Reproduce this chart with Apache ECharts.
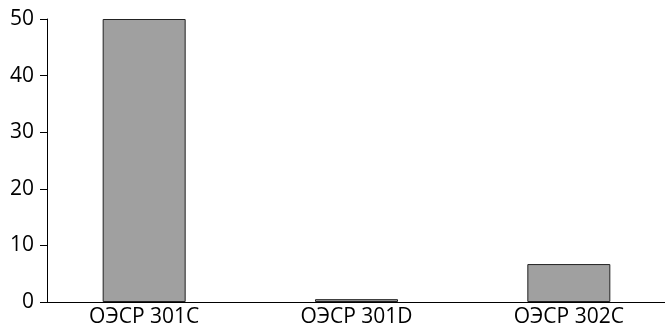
<!DOCTYPE html>
<html><head><meta charset="utf-8">
<script src="https://cdn.jsdelivr.net/npm/echarts@6/dist/echarts.min.js"></script>
<style>html,body{margin:0;padding:0;background:#fff}#c{width:665px;height:333px}</style>
</head><body><div id="c"></div>
<script>
const categories = ['ОЭСР 301C', 'ОЭСР 301D', 'ОЭСР 302C'];
const values = [50, 0.5, 6.7];
const yTicks = [0, 10, 20, 30, 40, 50];

const chart = echarts.init(document.getElementById('c'), null, {renderer: 'canvas'});
const font = {fontFamily: 'Open Sans', fontSize: 21, color: '#000'};
chart.setOption({
  animation: false,
  grid: [
    {left: 38, right: -10, top: 19, bottom: 31, outerBoundsMode: 'none'},
    {left: 47, right: 0, top: 19, bottom: 31, outerBoundsMode: 'none'}
  ],
  xAxis: [
    {type: 'category', gridIndex: 0, data: categories, boundaryGap: true,
     axisLine: {show: false}, axisTick: {show: false},
     axisLabel: Object.assign({margin: 5}, font)},
    {type: 'value', gridIndex: 1, min: 0, max: 1, axisLine: {show: true, lineStyle: {color: '#000', width: 1}},
     axisTick: {show: false}, axisLabel: {show: false}, splitLine: {show: false}}
  ],
  yAxis: [
    {type: 'value', gridIndex: 0, min: yTicks[0], max: yTicks[yTicks.length - 1], interval: 10, offset: -9,
     axisLine: {show: true, lineStyle: {color: '#000', width: 1}},
     axisTick: {show: true, length: 7, lineStyle: {color: '#000'}},
     axisLabel: Object.assign({margin: 13}, font),
     splitLine: {show: false}},
    {type: 'value', gridIndex: 1, min: 0, max: 1, show: false}
  ],
  series: [{
    type: 'bar', xAxisIndex: 0, yAxisIndex: 0, data: values, barWidth: 83,
    itemStyle: {color: '#a0a0a0', borderColor: '#222', borderWidth: 1}
  }]
});
</script></body></html>
